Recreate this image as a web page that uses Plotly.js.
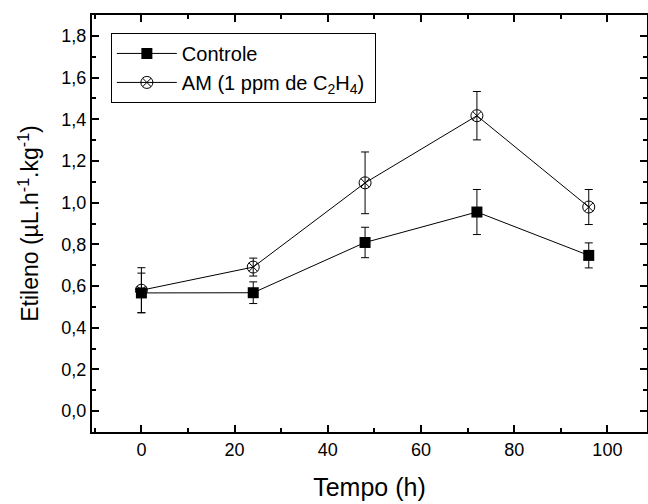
<!DOCTYPE html>
<html>
<head>
<meta charset="utf-8">
<script src="https://cdn.plot.ly/plotly-3.0.1.min.js"></script>
<style>html,body{margin:0;padding:0;background:#fff;overflow:hidden}#chart{width:648px;height:504px}</style>
</head>
<body>
<div id="chart"></div>
<script>
const tempo = [0, 24, 48, 72, 96];
const controle = [0.567, 0.568, 0.809, 0.955, 0.747];
const controleErr = [0.095, 0.052, 0.073, 0.108, 0.06];
const am = [0.58, 0.691, 1.095, 1.417, 0.979];
const amErr = [0.108, 0.043, 0.148, 0.116, 0.084];
const seriesNames = ['Controle', 'AM (1 ppm de C<sub>2</sub>H<sub>4</sub>)\u00a0'];
const yTicks = [0, 0.2, 0.4, 0.6, 0.8, 1.0, 1.2, 1.4, 1.6, 1.8];
const xTicks = [0, 20, 40, 60, 80, 100];

const font = 'Liberation Sans, Arial, sans-serif';
const traces = [
  {
    x: tempo, y: controle, name: seriesNames[0], type: 'scatter', mode: 'lines+markers',
    line: {color: 'black', width: 1},
    marker: {symbol: 'square', size: 11, color: 'black'},
    error_y: {type: 'data', array: controleErr, visible: true, color: 'black', thickness: 1, width: 4}
  },
  {
    x: tempo, y: am, name: seriesNames[1], type: 'scatter', mode: 'lines+markers',
    line: {color: 'black', width: 1},
    marker: {symbol: 'circle-x-open', size: 12, color: 'black', line: {color: 'black', width: 1}},
    error_y: {type: 'data', array: amErr, visible: true, color: 'black', thickness: 1, width: 4}
  }
];
const axisCommon = {
  showline: true, linecolor: 'black', linewidth: 2, mirror: 'ticks',
  ticks: 'inside', ticklen: 7, tickwidth: 2, tickcolor: 'black',
  showgrid: false, zeroline: false,
  tickfont: {family: font, size: 18, color: 'black'}
};
const layout = {
  width: 648, height: 504,
  margin: {l: 92, r: 1, t: 15, b: 72},
  paper_bgcolor: 'white', plot_bgcolor: 'white',
  separators: ',.',
  showlegend: true,
  legend: {
    x: 0.034, y: 0.957, xanchor: 'left', yanchor: 'top',
    bordercolor: 'black', borderwidth: 1, bgcolor: 'white',
    itemwidth: 60, tracegroupgap: 0,
    font: {family: font, size: 20, color: 'black'}
  },
  xaxis: Object.assign({}, axisCommon, {
    range: [-10.6, 108.5], tickvals: xTicks, ticktext: xTicks.map(String),
    minor: {dtick: 10, tick0: 0, ticks: 'inside', ticklen: 4, tickwidth: 2, tickcolor: 'black'},
    title: {text: 'Tempo (h)', font: {family: font, size: 25, color: 'black'}, standoff: 20}
  }),
  yaxis: Object.assign({}, axisCommon, {
    range: [-0.1, 1.9], tickvals: yTicks, tickformat: '.1f',
    minor: {dtick: 0.1, tick0: 0, ticks: 'inside', ticklen: 4, tickwidth: 2, tickcolor: 'black'},
    title: {text: 'Etileno (µL.h<sup>-1</sup>.kg<sup>-1</sup>)', font: {family: font, size: 23, color: 'black'}, standoff: 16}
  })
};
Plotly.newPlot('chart', traces, layout, {displayModeBar: false, staticPlot: true});
</script>
</body>
</html>
